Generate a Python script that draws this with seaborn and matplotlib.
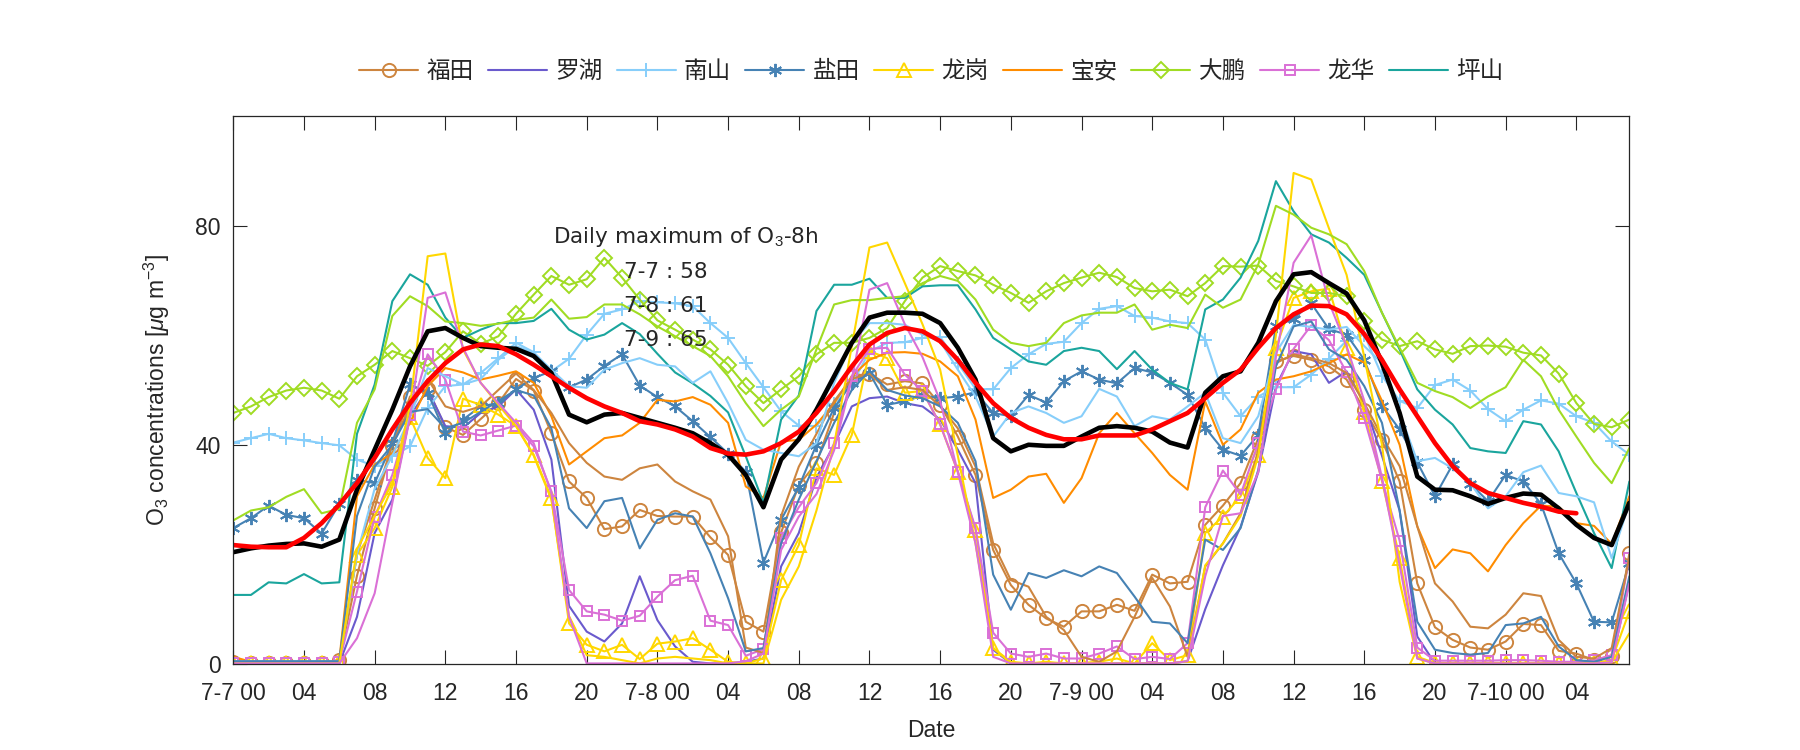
import numpy as np
import matplotlib
matplotlib.use('Agg')
import matplotlib.pyplot as plt
import seaborn as sns

# hourly O3 from 7-7 00 to 7-10 07
hours = np.arange(80)

futian = [0.3, 0.2, 0.2, 0.2, 0.2, 0.2, 0.7, 16.1, 28.4, 39.8,
          48.8, 50.2, 43.2, 41.8, 44.7, 47.6, 52.0, 49.9, 42.1, 33.3,
          30.3, 24.6, 25.1, 28.1, 27.0, 26.9, 26.9, 23.1, 19.9, 7.7,
          5.9, 24.0, 32.6, 36.7, 45.8, 52.5, 53.0, 51.0, 51.6, 51.2,
          47.3, 41.5, 34.5, 20.8, 14.4, 10.8, 8.3, 6.8, 9.6, 9.6,
          10.8, 9.7, 16.3, 14.7, 15.0, 25.4, 28.9, 33.0, 41.2, 55.2,
          56.2, 55.5, 54.3, 51.9, 46.4, 40.8, 33.3, 14.7, 6.7, 4.4,
          3.0, 2.6, 4.1, 7.3, 7.1, 2.4, 1.9, 0.7, 1.5, 20.2]
futian2 = [0.3, 0.3, 0.3, 0.3, 0.3, 0.3, 0.5, 20.0, 30.0, 40.0,
           47.0, 52.0, 47.0, 46.0, 47.0, 50.0, 53.0, 50.0, 45.8, 40.3,
           36.7, 34.2, 33.6, 35.7, 36.4, 33.3, 31.5, 30.0, 23.3, 3.0,
           2.0, 27.0, 36.0, 42.0, 48.0, 52.0, 53.0, 50.0, 50.5, 50.0,
           47.0, 43.0, 36.0, 22.0, 15.3, 14.1, 8.6, 6.2, 1.3, 0.4,
           2.3, 8.6, 15.7, 10.5, 1.3, 17.8, 22.0, 27.5, 39.0, 54.9,
           56.5, 55.8, 54.9, 53.1, 47.6, 41.5, 36.1, 25.1, 14.7, 11.4,
           6.8, 6.5, 9.0, 12.9, 12.4, 4.4, 1.3, 1.0, 2.9, 19.6]
luohu = [0.1, 0.1, 0.1, 0.1, 0.1, 0.1, 0.1, 8.6, 23.9, 30.0,
         45.2, 50.1, 43.4, 43.1, 45.8, 47.0, 50.1, 46.4, 37.3, 10.6,
         5.9, 4.1, 7.4, 16.0, 8.0, 3.2, 0.4, 0.1, 0.1, 0.4,
         1.0, 17.8, 23.9, 34.0, 40.0, 47.0, 48.5, 48.8, 47.6, 47.0,
         44.6, 39.1, 33.0, 2.6, 0.1, 0.1, 0.1, 0.1, 0.1, 0.1,
         0.1, 0.1, 0.1, 0.1, 0.5, 10.0, 18.0, 25.0, 35.0, 50.7,
         57.1, 56.5, 51.3, 53.4, 47.6, 38.0, 28.0, 5.0, 0.1, 0.1,
         0.1, 0.1, 0.1, 0.1, 0.1, 0.1, 0.1, 0.1, 0.3, 15.0]
nanshan = [40.4, 41.2, 42.0, 41.2, 40.8, 40.3, 39.9, 37.3, 36.1, 37.9,
           39.7, 46.7, 50.7, 51.0, 53.1, 55.8, 58.6, 56.9, 53.4, 55.7,
           60.1, 63.9, 64.7, 66.2, 66.0, 65.8, 65.3, 62.2, 59.5, 54.9,
           50.5, 46.1, 43.5, 43.4, 47.5, 51.0, 57.0, 58.6, 58.7, 59.5,
           59.7, 54.9, 50.2, 50.1, 54.0, 56.5, 58.4, 58.8, 62.2, 64.8,
           65.3, 63.5, 63.2, 62.5, 62.2, 59.2, 49.5, 45.2, 48.8, 50.5,
           50.5, 52.8, 55.7, 59.0, 60.1, 52.6, 48.0, 46.7, 50.9, 51.9,
           49.9, 46.5, 44.3, 46.4, 48.1, 47.5, 45.2, 44.0, 40.6, 38.2]
nanshan2 = [0.5, 0.5, 0.5, 0.5, 0.5, 0.5, 0.5, 20.0, 32.0, 38.0,
            45.0, 54.0, 52.5, 51.0, 52.0, 55.5, 58.0, 56.8, 53.7, 50.7,
            50.4, 53.7, 54.9, 55.8, 54.6, 54.3, 51.3, 53.4, 47.6, 40.9,
            39.1, 38.5, 37.9, 40.3, 51.3, 58.6, 62.2, 62.2, 61.9, 60.1,
            58.9, 53.7, 48.8, 41.5, 45.8, 47.0, 45.8, 44.0, 45.2, 50.2,
            48.8, 43.4, 45.2, 44.6, 47.0, 49.5, 41.2, 40.3, 45.2, 56.8,
            61.9, 61.5, 61.0, 61.5, 58.0, 54.9, 45.8, 37.0, 37.6, 35.7,
            33.0, 28.4, 30.6, 35.0, 36.2, 31.2, 30.6, 29.5, 19.3, 29.4]
yantian = [24.8, 26.6, 28.9, 27.2, 26.6, 23.8, 29.2, 33.6, 33.0, 40.3,
           51.0, 49.5, 42.1, 44.6, 47.0, 47.6, 50.1, 52.2, 53.4, 50.5,
           51.9, 54.4, 56.5, 50.8, 48.7, 47.0, 44.3, 41.4, 38.4, 35.1,
           18.5, 26.3, 32.3, 40.0, 46.7, 51.3, 53.1, 47.3, 47.9, 49.0,
           48.5, 48.8, 49.6, 45.8, 45.2, 49.1, 47.7, 51.6, 53.4, 51.9,
           51.2, 54.0, 53.2, 51.3, 49.1, 43.1, 39.1, 38.0, 41.8, 61.6,
           63.0, 65.8, 61.1, 60.1, 55.5, 47.1, 42.8, 36.8, 30.6, 36.4,
           32.9, 29.7, 34.5, 33.3, 29.2, 20.2, 14.7, 7.7, 7.6, 18.4]
yantian2 = [0.5, 0.5, 0.5, 0.5, 0.5, 0.5, 0.5, 27.0, 36.0, 40.0,
            46.0, 46.5, 43.0, 44.0, 46.0, 48.0, 50.0, 49.0, 43.0, 28.4,
            24.8, 29.7, 30.3, 21.1, 26.3, 27.5, 26.9, 20.2, 12.0, 2.3,
            2.9, 22.0, 30.0, 37.0, 44.0, 50.0, 53.5, 50.0, 49.0, 48.5,
            47.0, 44.0, 37.0, 16.3, 9.9, 16.6, 15.7, 17.1, 16.0, 17.8,
            16.6, 12.3, 7.7, 7.4, 3.8, 22.7, 20.8, 24.8, 35.4, 54.3,
            61.6, 62.5, 57.4, 55.5, 50.7, 44.0, 28.0, 7.7, 2.6, 2.0,
            1.7, 2.0, 7.1, 7.4, 8.6, 3.2, 0.7, 0.4, 1.3, 16.0]
longgang = [0.1, 0.1, 0.1, 0.1, 0.1, 0.1, 0.4, 19.9, 24.8, 32.3,
            45.0, 37.6, 33.9, 48.4, 47.3, 45.5, 43.4, 38.2, 30.3, 7.4,
            3.5, 2.3, 3.5, 0.9, 3.7, 4.1, 4.7, 2.6, 0.4, 0.1,
            1.0, 15.3, 21.7, 35.7, 34.5, 41.8, 57.1, 55.8, 49.5, 49.8,
            43.7, 35.1, 24.5, 2.9, 0.4, 0.1, 0.4, 0.1, 0.2, 0.4,
            1.0, 0.1, 3.8, 0.7, 1.6, 23.9, 26.9, 30.6, 38.2, 57.7,
            66.8, 68.0, 68.5, 57.7, 46.0, 33.4, 19.4, 1.3, 0.2, 0.2,
            0.2, 0.2, 0.2, 0.2, 0.2, 0.2, 0.2, 0.2, 0.7, 9.6]
longgang2 = [0.1, 0.1, 0.1, 0.1, 0.1, 0.1, 0.1, 21.0, 27.0, 33.0,
             47.0, 74.4, 74.9, 57.4, 51.3, 47.3, 43.4, 38.0, 30.0, 8.6,
             1.6, 1.3, 0.7, 0.1, 1.0, 1.3, 1.0, 0.7, 0.1, 0.1,
             0.1, 11.7, 17.8, 28.0, 40.0, 58.0, 76.0, 76.9, 69.5, 62.0,
             53.7, 38.0, 22.0, 2.9, 0.1, 0.1, 0.1, 0.1, 0.1, 0.1,
             0.1, 0.1, 0.1, 0.1, 0.5, 18.0, 22.0, 27.0, 38.0, 60.0,
             89.6, 88.4, 79.5, 71.0, 56.0, 40.0, 15.0, 1.0, 0.1, 0.1,
             0.1, 0.1, 0.1, 0.1, 0.1, 0.1, 0.1, 0.1, 0.3, 5.6]
baoan = [1.3, 0.4, 0.2, 0.2, 0.2, 0.2, 0.7, 30.6, 36.4, 38.5,
         44.0, 50.7, 54.0, 53.2, 51.9, 52.6, 53.4, 51.3, 45.2, 36.4,
         38.8, 41.2, 41.7, 44.0, 48.2, 47.9, 48.7, 47.3, 44.0, 32.4,
         30.3, 40.6, 40.9, 43.7, 47.6, 52.5, 55.5, 56.8, 56.9, 56.6,
         55.2, 52.5, 44.6, 30.3, 31.8, 34.2, 34.7, 29.4, 33.9, 42.1,
         45.8, 42.1, 38.5, 34.5, 31.8, 47.9, 40.0, 42.8, 49.5, 51.9,
         52.5, 53.4, 54.9, 56.5, 55.0, 48.0, 40.0, 25.1, 17.5, 20.9,
         20.2, 16.9, 21.7, 25.7, 28.9, 28.7, 25.7, 25.2, 21.9, 30.6]
dapeng = [45.8, 47.0, 48.7, 49.9, 50.4, 49.9, 48.4, 52.5, 54.6, 57.1,
          55.8, 54.4, 56.9, 60.7, 58.4, 59.8, 63.9, 67.4, 70.8, 69.2,
          70.2, 74.1, 70.5, 66.5, 62.7, 61.0, 59.2, 57.4, 54.6, 50.7,
          47.6, 50.1, 52.5, 56.5, 58.6, 58.6, 59.5, 61.3, 66.2, 70.5,
          72.6, 71.7, 70.9, 69.2, 67.7, 65.9, 68.0, 69.5, 70.5, 71.4,
          70.6, 68.6, 68.0, 68.3, 67.1, 69.5, 72.6, 72.5, 72.7, 69.9,
          68.9, 67.7, 67.7, 67.1, 62.5, 59.2, 58.0, 58.9, 57.4, 56.6,
          58.0, 58.1, 57.9, 56.8, 56.3, 53.0, 47.6, 43.8, 43.2, 44.6]
dapeng2 = [26.2, 28.0, 28.6, 30.5, 31.9, 27.5, 28.3, 44.0, 50.1, 63.5,
           67.1, 65.3, 62.5, 62.2, 61.7, 62.1, 62.8, 63.2, 66.5, 63.0,
           63.3, 65.6, 65.6, 63.8, 61.6, 59.8, 58.0, 56.2, 52.5, 47.6,
           43.4, 46.4, 48.8, 57.4, 65.6, 66.4, 66.4, 66.8, 67.1, 69.5,
           70.8, 69.9, 66.5, 61.0, 58.6, 58.0, 58.6, 62.2, 63.6, 64.1,
           64.1, 65.6, 61.0, 61.9, 61.3, 67.4, 65.0, 66.5, 72.9, 83.6,
           82.0, 79.6, 78.4, 76.6, 71.7, 64.1, 57.7, 51.3, 49.8, 48.7,
           46.7, 48.8, 50.5, 55.5, 52.5, 46.4, 41.5, 36.7, 33.0, 39.4]
longhua = [0.2, 0.2, 0.2, 0.2, 0.2, 0.2, 0.4, 13.2, 26.9, 34.5,
           45.5, 56.5, 51.9, 42.4, 41.7, 42.6, 43.5, 39.7, 31.5, 13.5,
           9.6, 9.0, 7.9, 8.8, 12.3, 15.3, 16.1, 7.9, 7.1, 1.5,
           2.7, 23.0, 28.6, 33.0, 40.3, 52.5, 57.5, 57.7, 52.8, 49.8,
           43.7, 35.1, 24.8, 5.7, 1.9, 1.3, 1.9, 1.0, 1.0, 1.9,
           3.2, 0.9, 1.3, 0.9, 3.8, 28.6, 35.3, 30.9, 40.3, 50.1,
           57.5, 61.8, 59.1, 53.2, 44.8, 33.6, 22.5, 3.0, 0.6, 0.6,
           0.6, 0.6, 0.7, 0.7, 0.6, 0.4, 0.4, 0.7, 1.6, 19.4]
longhua2 = [0.1, 0.1, 0.1, 0.1, 0.1, 0.1, 0.1, 4.7, 12.9, 29.4,
            45.0, 66.8, 67.8, 57.7, 51.3, 47.6, 44.0, 40.3, 31.2, 8.6,
            0.1, 0.1, 0.1, 0.1, 0.1, 0.1, 0.1, 0.1, 0.1, 0.5,
            1.9, 20.8, 26.9, 31.0, 39.0, 52.0, 68.3, 69.5, 62.0, 56.0,
            48.0, 35.0, 22.0, 1.3, 0.1, 0.1, 0.1, 0.1, 0.1, 0.1,
            0.1, 0.1, 0.1, 0.1, 0.5, 16.0, 27.0, 27.5, 35.0, 56.0,
            73.2, 78.2, 66.0, 58.0, 48.0, 34.0, 18.0, 1.0, 0.1, 0.1,
            0.1, 0.1, 0.1, 0.1, 0.1, 0.1, 0.1, 0.1, 0.3, 14.7]
pingshan = [12.6, 12.6, 14.9, 14.7, 16.4, 14.7, 14.9, 42.0, 51.0, 66.2,
            71.1, 69.2, 63.2, 59.5, 61.0, 62.2, 62.2, 62.6, 64.8, 61.0,
            59.2, 60.1, 62.2, 60.2, 56.6, 53.2, 51.2, 48.9, 45.9, 37.9,
            29.4, 44.6, 49.0, 64.4, 69.2, 69.2, 70.3, 66.8, 66.8, 68.9,
            69.1, 69.1, 64.7, 59.5, 57.4, 55.2, 54.6, 57.1, 57.7, 57.1,
            53.8, 57.1, 53.7, 51.3, 50.1, 64.7, 66.5, 70.5, 77.2, 88.1,
            82.6, 78.4, 76.9, 74.1, 71.0, 64.1, 57.4, 50.1, 46.4, 43.7,
            39.4, 38.8, 38.5, 44.3, 43.7, 38.8, 31.2, 23.9, 17.5, 33.3]

# city mean and 8h running mean
city_mean = [20.4, 21.1, 21.6, 21.9, 22.0, 21.4, 22.7, 31.8, 39.1, 46.4,
             54.3, 60.7, 61.3, 59.5, 58.0, 57.7, 57.5, 56.2, 53.1, 45.5,
             44.1, 45.5, 45.8, 44.9, 44.0, 43.1, 42.1, 40.3, 38.2, 34.5,
             28.6, 37.3, 41.0, 46.4, 52.5, 58.6, 63.2, 64.1, 64.1, 63.9,
             62.2, 57.7, 51.9, 41.2, 38.8, 40.0, 39.8, 39.8, 41.5, 43.1,
             43.4, 43.1, 42.4, 40.4, 39.5, 49.5, 52.5, 53.4, 58.6, 66.2,
             71.1, 71.5, 69.5, 67.6, 62.7, 54.9, 45.8, 34.2, 31.8, 31.7,
             30.6, 29.2, 30.3, 31.1, 30.9, 28.4, 25.4, 23.0, 21.7, 29.4]
o3_8h = [21.7, 21.4, 21.3, 21.3, 23.0, 25.7, 29.1, 33.0, 37.6, 42.8,
         47.6, 51.6, 54.9, 57.4, 58.3, 58.0, 56.5, 54.6, 52.5, 50.4,
         48.5, 47.0, 45.8, 44.3, 43.7, 42.8, 41.5, 39.4, 38.4, 38.2,
         38.8, 40.3, 42.4, 45.8, 49.8, 54.3, 58.3, 60.4, 61.3, 60.7,
         58.9, 55.5, 51.3, 47.6, 44.9, 43.1, 41.8, 41.0, 41.0, 41.7,
         41.7, 41.7, 42.8, 44.3, 45.8, 48.5, 51.3, 53.7, 57.7, 61.3,
         63.8, 65.4, 65.3, 63.8, 60.2, 55.5, 50.1, 45.2, 40.3, 36.1,
         33.0, 31.2, 30.3, 29.4, 28.7, 27.8, 27.5]

tick_hours = [0, 4, 8, 12, 16, 20, 24, 28, 32, 36, 40, 44, 48, 52, 56, 60, 64, 68, 72, 76]
tick_labels = ['7-7 00', '04', '08', '12', '16', '20', '7-8 00', '04', '08', '12',
               '16', '20', '7-9 00', '04', '08', '12', '16', '20', '7-10 00', '04']
daily_max = [('7-7', 58), ('7-8', 61), ('7-9', 65)]

sns.set_theme(style='ticks')
plt.rcParams['font.family'] = ['Liberation Sans', 'Noto Sans CJK SC', 'DejaVu Sans']
plt.rcParams['mathtext.fontset'] = 'custom'
plt.rcParams['mathtext.rm'] = 'Liberation Sans'
plt.rcParams['mathtext.it'] = 'Liberation Sans:italic'

fig = plt.figure(figsize=(18, 7.5), dpi=100)
ax = fig.add_axes([0.1296, 0.1147, 0.7756, 0.7307])

# name, data, colour, marker, marker size
stations = [
    ('福田', futian, '#CD853F', 'o', 9.5),
    ('罗湖', luohu, '#6A5ACD', None, 0),
    ('南山', nanshan, '#87CEFA', '+', 10),
    ('盐田', yantian, '#4682B4', (6, 2, 0), 9.5),
    ('龙岗', longgang, '#FFD700', '^', 10),
    ('宝安', baoan, '#FF8C00', None, 0),
    ('大鹏', dapeng, '#A0DC23', 'D', 8),
    ('龙华', longhua, '#DA70D6', 's', 6.5),
    ('坪山', pingshan, '#1AA59D', None, 0),
]
extra = [
    (futian2, '#CD853F'), (nanshan2, '#87CEFA'), (yantian2, '#4682B4'),
    (longgang2, '#FFD700'), (dapeng2, '#A0DC23'), (longhua2, '#DA70D6'),
]

handles = []
for name, vals, c, m, ms in stations:
    sns.lineplot(x=hours, y=vals, ax=ax, color=c, lw=1.5, marker=m, ms=ms,
                 mfc='none', mec=c, mew=1.4, label=name)
    handles.append(ax.get_lines()[-1])

for vals, c in extra:
    sns.lineplot(x=hours, y=vals, ax=ax, color=c, lw=1.5)

sns.lineplot(x=hours, y=city_mean, ax=ax, color='black', lw=3.3)
sns.lineplot(x=hours[:len(o3_8h)], y=o3_8h, ax=ax, color='red', lw=3.3)

ax.legend(handles, [s[0] for s in stations], ncol=9, loc='center',
          bbox_to_anchor=(0.5, 1.08), frameon=False, fontsize=17,
          handlelength=2.5, handletextpad=0.35, columnspacing=0.6)

ax.set_xlim(0, 79)
ax.set_ylim(0, 100)
ax.set_xticks(tick_hours)
ax.set_xticklabels(tick_labels)
ax.set_yticks([0, 40, 80])
ax.tick_params(direction='in', length=10, width=0.8, top=True, right=True,
               labelsize=16.5, color='#262626', labelcolor='#262626')
ax.tick_params(axis='x', pad=13)
ax.tick_params(axis='y', pad=9)
for sp in ax.spines.values():
    sp.set_visible(True)
    sp.set_color('#262626')
    sp.set_linewidth(0.9)

ax.set_xlabel('Date', fontsize=16.5, color='#262626')
ax.set_ylabel('O$_3$ concentrations [$\\mu$g m$^{-3}$]', fontsize=16.5, color='#262626')
ax.xaxis.set_label_coords(0.5, -0.1)
ax.yaxis.set_label_coords(-0.044, 0.5)

ax.text(18.1, 78.0, 'Daily maximum of O$_3$-8h', fontsize=15.5,
        family='DejaVu Sans', va='center')
for i, (day, v) in enumerate(daily_max):
    ax.text(22.1, 71.5 - 6.2 * i, f'{day} : {v}', fontsize=15.5,
            family='DejaVu Sans', va='center')

fig.savefig('out.png', dpi=100)
